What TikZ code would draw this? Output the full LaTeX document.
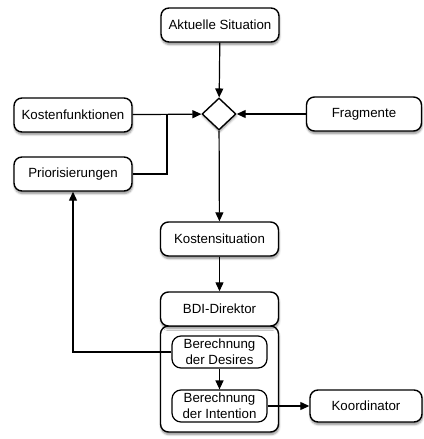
\documentclass[tikz,border=0pt]{standalone}
\usepackage{fontspec}
\setmainfont{Liberation Sans}
\usetikzlibrary{arrows.meta,shapes.geometric,shadows.blur}
\begin{document}
\begin{tikzpicture}[x=1pt,y=-1pt,
  plain/.style={draw=black,line width=1.4pt,rounded corners=8pt,fill=white,
    minimum width=118pt,minimum height=34pt,inner sep=0pt,align=center,
    font=\fontsize{13.3}{15.6}\selectfont},
  box/.style={plain,
    blur shadow={shadow xshift=0.5pt,shadow yshift=-2.5pt,shadow blur steps=6,shadow opacity=45}},
  inner/.style={plain,minimum width=95pt,minimum height=32pt,rounded corners=9pt,line width=1.2pt},
  gate/.style={draw=black,line width=1.4pt,fill=white,shape=diamond,inner sep=0pt,
    minimum width=34pt,minimum height=32pt,
    blur shadow={shadow xshift=0.5pt,shadow yshift=-2pt,shadow blur steps=5,shadow opacity=40}},
  flow/.style={line width=1.2pt,-{Triangle[length=9pt,width=8pt]}},
  link/.style={line width=1.2pt}]
\useasboundingbox (0,0) rectangle (423,439);

% inputs around the decision point
\node[box] (akt) at (220,25) {Aktuelle Situation};
\node[gate] (dec) at (219,114) {};
\node[box] (kfn) at (73,115) {Kostenfunktionen};
\node[box,minimum width=115pt] (frag) at (364,114) {Fragmente};
\node[box] (prio) at (73,174) {Priorisierungen};
\coordinate (join) at (167,115);

% cost situation and director
\node[box] (kost) at (219.5,239) {Kostensituation};
\node[box,minimum height=106pt] (cont) at (219.5,379) {};
\node[box] (bdi) at (219.5,309) {BDI-Direktor};
\node[inner] (des) at (219.5,352) {Berechnung\\der Desires};
\node[inner] (int) at (219.5,406) {Berechnung\\der Intention};
\node[box,minimum width=112pt,minimum height=32pt] (koord) at (366,406) {Koordinator};

% connectors
\draw[flow] (akt) -- (dec);
\draw[flow] (kfn) -- (dec);
\draw[flow] (frag) -- (dec);
\draw[link] (prio.east) -| (join);
\draw[flow] (dec) -- (kost);
\draw[flow] (kost) -- (bdi);
\draw[flow] (des) -- (int);
\draw[flow] (int) -- (koord);
\draw[flow] (des.west) -| (prio.south);
\end{tikzpicture}
\end{document}
